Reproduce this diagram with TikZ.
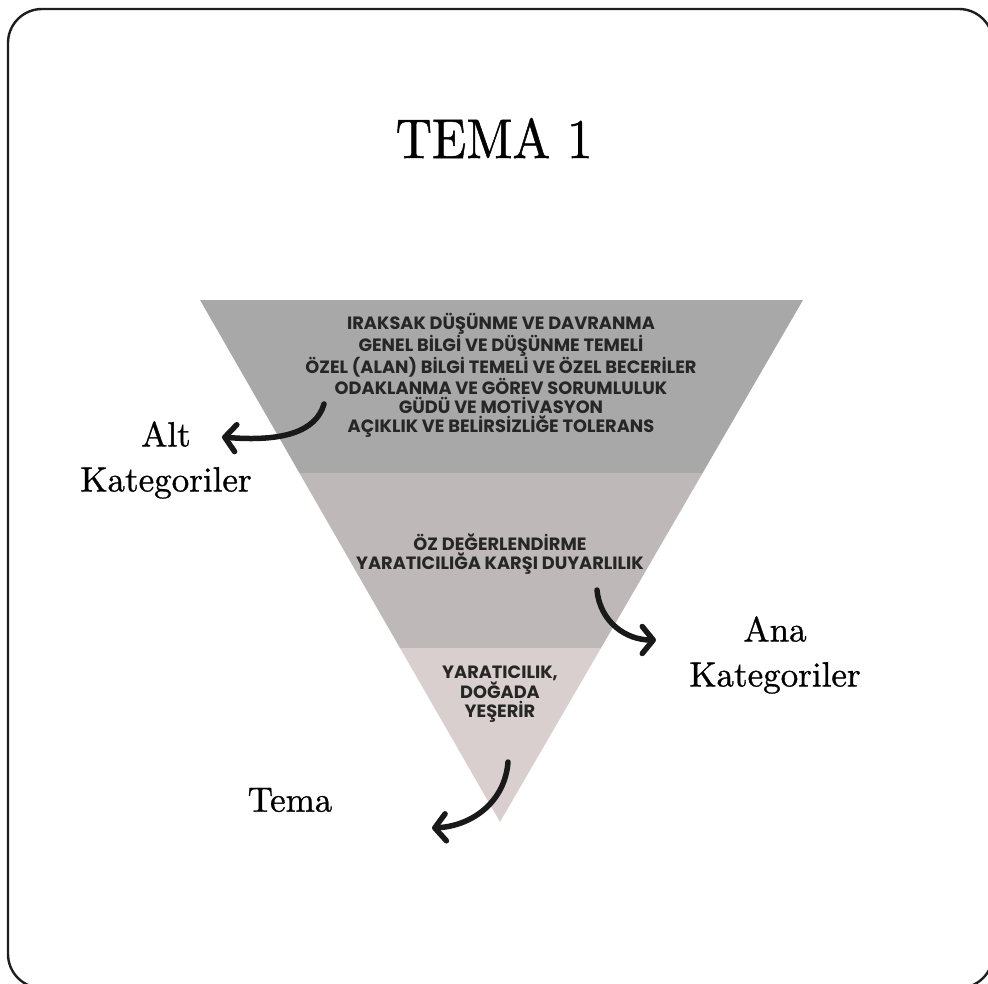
\documentclass[tikz,border=0pt]{standalone}
\usepackage{fontspec}
\usetikzlibrary{arrows.meta}
\newfontfamily\bandfont{Poppins}
\newfontfamily\lblfont{lmroman10-regular}[Extension=.otf, FakeBold=0.9]
\definecolor{bandA}{RGB}{168,168,168}
\definecolor{bandB}{RGB}{190,184,184}
\definecolor{bandC}{RGB}{217,207,207}
\definecolor{frameink}{RGB}{30,30,30}
\tikzset{
  bandtext/.style={font=\bandfont\bfseries\fontsize{17.8}{18.7}\selectfont, align=center, text=black!85, inner sep=0pt},
  serifbig/.style={font=\lblfont\fontsize{35}{45}\selectfont, align=center, inner sep=0pt},
  curlyarrow/.style={line width=5.5pt, line cap=round, black!90,
    -{Straight Barb[length=11pt,width=27pt,line width=5.5pt,round]}},
}
\begin{document}
\begin{tikzpicture}[x=1pt,y=-1pt]
\useasboundingbox (0,0) rectangle (988,983);
% outer frame
\draw[frameink, line width=2.4pt, rounded corners=34pt] (8,9) rectangle (993,988);
% inverted triangle split in three bands
\fill[bandA] (200,300) -- (803,300) -- (702.6,473) -- (299.4,473) -- cycle;
\fill[bandB] (299.4,473) -- (702.6,473) -- (601,648) -- (400,648) -- cycle;
\fill[bandC] (400,648) -- (601,648) -- (500,822) -- cycle;
% title
\node[inner sep=0pt] (title) at (494,138) {\lblfont\fontsize{56}{56}\selectfont\scalebox{0.9}[1]{TEMA 1}};
% band contents
\node[bandtext] (sub) at (501,375) {IRAKSAK DÜŞÜNME VE DAVRANMA\\GENEL BİLGİ VE DÜŞÜNME TEMELİ\\ÖZEL (ALAN) BİLGİ TEMELİ VE ÖZEL BECERİLER\\ODAKLANMA VE GÖREV SORUMLULUK\\GÜDÜ VE MOTİVASYON\\AÇIKLIK VE BELİRSİZLİĞE TOLERANS};
\node[bandtext] (main) at (500,554) {ÖZ DEĞERLENDİRME\\YARATICILIĞA KARŞI DUYARLILIK};
\node[bandtext] (theme) at (500,694) {YARATICILIK,\\DOĞADA\\YEŞERİR};
% side labels
\node[serifbig] (altlbl) at (166,460) {Alt\\Kategoriler};
\node[serifbig] (analbl) at (775,655) {Ana\\Kategoriler};
\node[serifbig] (temalbl) at (290,800) {Tema};
% pointers
\coordinate (s1) at (324,404);
\coordinate (e1) at (222,437);
\coordinate (s2) at (597,590);
\coordinate (e2) at (656,640);
\coordinate (s3) at (508,762);
\coordinate (e3) at (432,828);
\draw[curlyarrow] (s1) .. controls (316,432) and (282,442) .. (e1);
\draw[curlyarrow] (s2) .. controls (600,622) and (626,640) .. (e2);
\draw[curlyarrow] (s3) .. controls (505,802) and (472,826) .. (e3);
\end{tikzpicture}
\end{document}
